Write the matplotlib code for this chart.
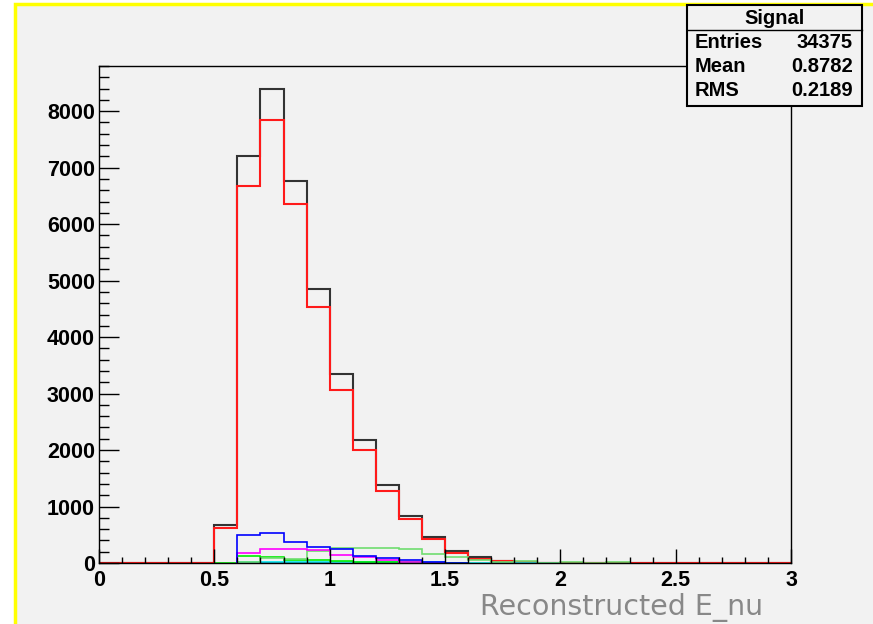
import matplotlib

matplotlib.use("Agg")
import matplotlib.pyplot as plt
import numpy as np
from matplotlib.patches import Rectangle
from matplotlib.lines import Line2D
from matplotlib.ticker import MultipleLocator

# 30 bins of width 0.1 between 0 and 3
edges = np.round(np.arange(0, 3.01, 0.1), 2)

total = [0, 0, 0, 0, 0, 674, 7200, 8390, 6760, 4858, 3351, 2181, 1383, 833, 461,
         218, 112, 35, 14, 6, 0, 0, 0, 0, 0, 0, 0, 0, 0, 0]
signal = [0, 0, 0, 0, 0, 621, 6684, 7837, 6360, 4539, 3067, 2004, 1277, 780, 426,
          183, 71, 30, 12, 5, 0, 0, 0, 0, 0, 0, 0, 0, 0, 0]
blue_comp = [0, 0, 0, 0, 0, 0, 496, 538, 372, 290, 242, 124, 95, 53, 10,
             5, 0, 0, 0, 0, 0, 0, 0, 0, 0, 0, 0, 0, 0, 0]
magenta_comp = [0, 0, 0, 0, 0, 0, 171, 240, 240, 235, 135, 100, 55, 20, 8,
                0, 0, 0, 0, 0, 0, 0, 0, 0, 0, 0, 0, 0, 0, 0]
palegreen_comp = [0, 0, 0, 0, 0, 0, 20, 80, 70, 218, 258, 258, 258, 240, 158,
                  100, 53, 25, 34, 0, 12, 0, 12, 0, 0, 0, 0, 0, 0, 0]
green_comp = [0, 0, 0, 0, 0, 5, 124, 100, 47, 45, 30, 20, 15, 10, 8,
              5, 0, 0, 0, 0, 0, 0, 0, 0, 0, 0, 0, 0, 0, 0]
cyan_comp = [0, 0, 0, 0, 0, 0, 12, 20, 20, 20, 20, 20, 20, 20, 20,
             8, 8, 8, 8, 8, 0, 0, 0, 0, 0, 0, 0, 0, 0, 0]
navy_comp = [0, 0, 0, 0, 0, 0, 0, 6, 6, 6, 0, 0, 0, 0, 0,
             0, 0, 0, 0, 0, 0, 0, 0, 0, 0, 0, 0, 0, 0, 0]

stats_title = "Signal"
stats_rows = [("Entries", "34375"), ("Mean", "0.8782"), ("RMS", "0.2189")]
x_title = "Reconstructed E_nu"

BG = "#f2f2f2"
W, H = 873, 624


def fx(px):
    return px / W


def fy(py):
    return 1 - py / H


fig = plt.figure(figsize=(W / 100, H / 100), dpi=100, facecolor="white")

# canvas pad with the yellow highlight border
fig.patches.append(Rectangle((fx(15), -0.05), 1.2, fy(4) + 0.05, transform=fig.transFigure,
                             facecolor=BG, edgecolor="#ffff00", lw=2.5, zorder=-10))

ax = fig.add_axes([fx(99), fy(563), fx(791) - fx(99), fy(66) - fy(563)])
ax.set_zorder(1)
ax.set_facecolor(BG)


def draw(vals, color, lw=1.5, trim=True):
    v = np.asarray(vals, dtype=float)
    if trim:
        nz = np.nonzero(v)[0]
        lo, hi = nz[0], nz[-1] + 1
        ax.stairs(v[lo:hi], edges[lo:hi + 1], color=color, lw=lw)
    else:
        ax.stairs(v, edges, color=color, lw=lw)


draw(total, "#333333", trim=False)
draw(signal, "#ff1a1a", trim=False)
draw(navy_comp, "#1a1a66", lw=1.2)
draw(cyan_comp, "#00e5ee", lw=1.2)
draw(green_comp, "#00ee00", lw=1.2)
draw(palegreen_comp, "#70dd70", lw=1.2)
draw(magenta_comp, "#ff00ff", lw=1.2)
draw(blue_comp, "#0000ff", lw=1.2)

ax.set_xlim(0, 3)
ax.set_ylim(0, 8800)
ax.xaxis.set_major_locator(MultipleLocator(0.5))
ax.xaxis.set_minor_locator(MultipleLocator(0.1))
ax.yaxis.set_major_locator(MultipleLocator(1000))
ax.yaxis.set_minor_locator(MultipleLocator(200))
ax.tick_params(axis="x", which="major", direction="in", length=10, width=1, pad=5)
ax.tick_params(axis="x", which="minor", direction="in", length=4.5, width=1)
ax.tick_params(axis="y", which="major", direction="in", length=14.5, width=1, pad=3)
ax.tick_params(axis="y", which="minor", direction="in", length=7.5, width=1)
ax.tick_params(top=False, right=False, which="both")
ax.xaxis.set_major_formatter(lambda v, p: f"{v:g}")
ax.yaxis.set_major_formatter(lambda v, p: f"{v:g}")
for lab in ax.get_xticklabels() + ax.get_yticklabels():
    lab.set_fontfamily("Liberation Sans")
    lab.set_fontweight("bold")
    lab.set_fontsize(15.5)
for s in ax.spines.values():
    s.set_linewidth(1)

fig.text(fx(763), fy(607), x_title, ha="right", va="center", color="#888888",
         fontsize=20.5, family="DejaVu Sans")

# stats box, drawn over the frame
bx0, bx1, by0, by1 = 687, 862, 5, 106
fig.patches.append(Rectangle((fx(bx0), fy(by1)), fx(bx1) - fx(bx0), fy(by0) - fy(by1),
                             transform=fig.transFigure, facecolor=BG, edgecolor="black",
                             lw=1.5, zorder=5))
fig.lines.append(Line2D([fx(bx0), fx(bx1)], [fy(30), fy(30)], transform=fig.transFigure,
                        color="black", lw=1, zorder=6))
txt = dict(fontsize=14.5, fontweight="bold", family="Liberation Sans", va="center", zorder=7)
fig.text(fx((bx0 + bx1) / 2), fy(18), stats_title, ha="center", **txt)
for i, (k, v) in enumerate(stats_rows):
    y = fy(43 + i * 23.7)
    fig.text(fx(bx0 + 8), y, k, ha="left", **txt)
    fig.text(fx(bx1 - 9), y, v, ha="right", **txt)

fig.savefig("out.png", dpi=100, facecolor="white")
